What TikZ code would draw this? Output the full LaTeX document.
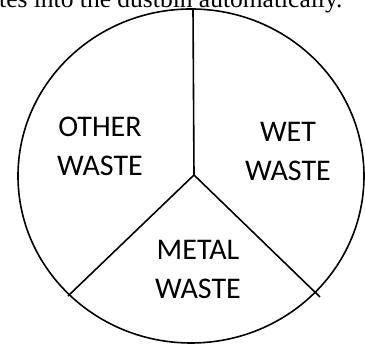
\documentclass[tikz,border=0pt]{standalone}
\usepackage{fontspec}
\setmainfont{Carlito}
\newfontfamily\serifcap{Liberation Serif}
\begin{document}
\begin{tikzpicture}[x=1pt,y=1pt,
  part/.style={line width=1.6pt,black},
  lbl/.style={anchor=base,align=center,font=\fontsize{30}{39}\selectfont}]
\useasboundingbox (0,0) rectangle (365,345);
\clip (0,0) rectangle (365,345);
\node[anchor=base west,inner sep=0pt] (cap) at (-1,337.5) {\serifcap\fontsize{25.5}{30}\selectfont tes into the dustbin automatically.};
\coordinate (c) at (194,170);
\coordinate (top) at (193,336);
\coordinate (bl) at (68,49);
\coordinate (br) at (320,48);
\draw[part] (191,169) ellipse [x radius=173, y radius=167];
\draw[part] (c) -- (top);
\draw[part] (c) -- (bl);
\draw[part] (c) -- (br);
\node[lbl] (other) at (100,169) {OTHER\\WASTE};
\node[lbl] (wet) at (288,164) {WET\\WASTE};
\node[lbl] (metal) at (198,46) {METAL\\WASTE};
\end{tikzpicture}
\end{document}
